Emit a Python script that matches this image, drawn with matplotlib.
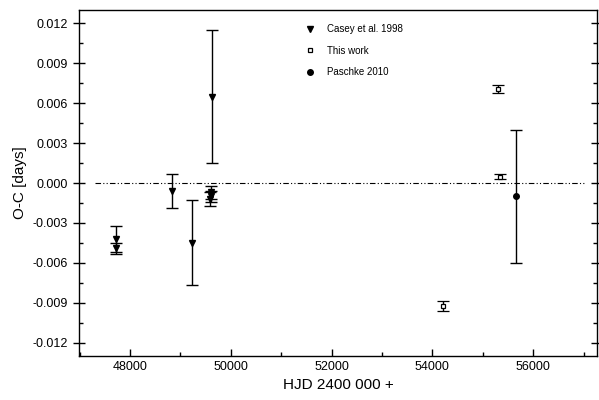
import matplotlib.pyplot as plt
from matplotlib.lines import Line2D
from matplotlib.ticker import MultipleLocator, FormatStrFormatter

plt.rcParams['font.family'] = ['Liberation Sans', 'DejaVu Sans']

# Casey et al. 1998
casey_x = [47720, 47720, 48840, 49230, 49620, 49600, 49610, 49590]
casey_y = [-0.0042, -0.0049, -0.0006, -0.0045, 0.0065, -0.0007, -0.0010, -0.0012]
casey_err = [0.0010, 0.0004, 0.00128, 0.0032, 0.0050, 0.0005, 0.0004, 0.0005]

# This work
work_x = [54210, 55300, 55340]
work_y = [-0.00923, 0.0071, 0.00047]
work_err = [0.00037, 0.0003, 0.0002]

# Paschke 2010
pas_x = [55660]
pas_y = [-0.0010]
pas_err = [0.0050]

fig = plt.figure(figsize=(5.99, 4.0), dpi=100)
ax = fig.add_axes([0.132, 0.11, 0.865, 0.865])

ax.plot([47300, 57000], [0, 0], color='black', lw=0.8,
        linestyle=(0, (5, 2, 1, 2, 1, 2)))

eb = dict(capsize=4, elinewidth=1, capthick=1, color='black')
ax.errorbar(casey_x, casey_y, yerr=casey_err, fmt='v', ms=5, **eb)
ax.errorbar(work_x, work_y, yerr=work_err, fmt='s', mfc='white',
            ms=3.5, mew=0.9, **eb)
ax.errorbar(pas_x, pas_y, yerr=pas_err, fmt='o', ms=4, **eb)

ax.set_xlim(46990, 57270)
ax.set_ylim(-0.013, 0.013)
ax.xaxis.set_major_locator(MultipleLocator(2000))
ax.xaxis.set_minor_locator(MultipleLocator(1000))
ax.yaxis.set_major_locator(MultipleLocator(0.003))
ax.yaxis.set_minor_locator(MultipleLocator(0.0015))
ax.yaxis.set_major_formatter(FormatStrFormatter('%.3f'))
ax.tick_params(which='both', direction='in', top=False, right=True, labelsize=9)
ax.tick_params(which='major', length=5, width=1)
ax.tick_params(which='minor', length=3, width=1)
ax.tick_params(axis='y', which='major', left=True, direction='inout', length=9)
for s in ax.spines.values():
    s.set_linewidth(1)

ax.set_xlabel('HJD 2400 000 +', fontsize=11)
ax.set_ylabel('O-C [days]', fontsize=11)

handles = [
    Line2D([], [], ls='none', marker='v', color='black', ms=5),
    Line2D([], [], ls='none', marker='s', color='black', mfc='white', ms=3.5, mew=0.9),
    Line2D([], [], ls='none', marker='o', color='black', ms=4),
]
labels = ['Casey et al. 1998', 'This work', 'Paschke 2010']
ax.legend(handles, labels, loc='upper left', bbox_to_anchor=(0.42, 0.985),
          frameon=False, fontsize=7, handlelength=1.0, handletextpad=1.2,
          labelspacing=1.2, numpoints=1)

fig.savefig('out.png', dpi=100)
